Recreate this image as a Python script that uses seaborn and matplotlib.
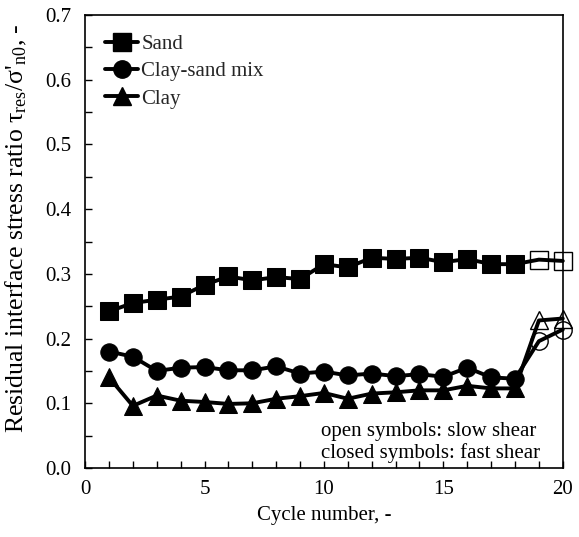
# plot.py
# residual interface stress ratio vs cycle number for three soils

import numpy as np
import pandas as pd
import seaborn as sns
import matplotlib
import matplotlib.pyplot as plt
from matplotlib.lines import Line2D
from matplotlib.ticker import MultipleLocator
matplotlib.use('Agg')

cycles = list(range(1, 21))
sand = [0.242, 0.255, 0.260, 0.265, 0.283, 0.296, 0.290, 0.295, 0.292, 0.315,
        0.310, 0.325, 0.323, 0.325, 0.318, 0.323, 0.315, 0.315, 0.322, 0.320]
mix = [0.180, 0.172, 0.150, 0.155, 0.156, 0.151, 0.151, 0.157, 0.146, 0.149,
       0.143, 0.146, 0.142, 0.145, 0.141, 0.155, 0.140, 0.138, 0.196, 0.214]
clay = [0.140, 0.096, 0.112, 0.104, 0.102, 0.099, 0.100, 0.107, 0.111, 0.116,
        0.107, 0.115, 0.117, 0.120, 0.120, 0.127, 0.123, 0.123, 0.228, 0.231]
labels = ["Sand", "Clay-sand mix", "Clay"]
markers = ["s", "o", "^"]
n_fast = 18  # cycles 1-18 fast shear, 19-20 slow shear

sns.set_theme(style="ticks")
plt.rcParams['font.family'] = ['Liberation Serif', 'DejaVu Serif']
plt.rcParams['mathtext.fontset'] = 'custom'
plt.rcParams['mathtext.rm'] = 'Liberation Serif'
plt.rcParams['mathtext.it'] = 'Liberation Serif:italic'

FS = 15

fig, ax = plt.subplots(figsize=(5.79, 5.37), dpi=100)
fig.subplots_adjust(left=0.147, right=0.972, bottom=0.1285, top=0.972)

handles = []
for vals, lab, mk in zip([sand, mix, clay], labels, markers):
    df = pd.DataFrame({"cycle": cycles, "ratio": vals})
    # whole line, no markers
    sns.lineplot(data=df, x="cycle", y="ratio", color="black", lw=2.8, ax=ax,
                 legend=False, zorder=2, clip_on=False)
    # closed symbols: fast shear
    fast = df.iloc[:n_fast]
    sns.lineplot(data=fast, x="cycle", y="ratio", color="black", lw=0,
                 marker=mk, markersize=12.5, markeredgecolor="black",
                 markerfacecolor="black", ax=ax, legend=False, zorder=3,
                 clip_on=False)
    # open symbols: slow shear
    slow = df.iloc[n_fast:]
    sns.lineplot(data=slow, x="cycle", y="ratio", color="black", lw=0,
                 marker=mk, markersize=12.5, markeredgecolor="black",
                 markerfacecolor="none", markeredgewidth=1.0, ax=ax,
                 legend=False, zorder=3, clip_on=False)
    handles.append(Line2D([], [], color="black", lw=2.8, marker=mk,
                          markersize=12.5, markerfacecolor="black",
                          markeredgecolor="black", label=lab))

ax.set_xlim(0, 20)
ax.set_ylim(0, 0.7)
ax.xaxis.set_major_locator(MultipleLocator(5))
ax.xaxis.set_minor_locator(MultipleLocator(1))
ax.yaxis.set_major_locator(MultipleLocator(0.1))
ax.yaxis.set_minor_locator(MultipleLocator(0.05))
ax.yaxis.set_major_formatter(matplotlib.ticker.FormatStrFormatter('%.1f'))
ax.tick_params(which="both", direction="in", length=5, width=1, color="black",
               labelsize=FS, labelcolor="black")
ax.tick_params(axis="x", which="both", pad=9)
ax.tick_params(axis="y", which="both", pad=10)
for sp in ax.spines.values():
    sp.set_linewidth(1.2)
    sp.set_color("black")

ax.set_xlabel("Cycle number, -", fontsize=FS, color="black", labelpad=5)
ax.set_ylabel("Residual interface stress ratio τ$_{\\mathrm{res}}$/σ'$_{\\mathrm{n0}}$, -",
              fontsize=18.5, color="black")
ax.yaxis.set_label_coords(-0.118, 0.53)

ax.legend(handles=handles, loc="upper left", frameon=False, fontsize=FS,
          handlelength=1.6, handletextpad=0.15, labelspacing=0.36,
          borderaxespad=0.55)

ax.text(0.494, 0.01, "open symbols: slow shear\nclosed symbols: fast shear",
        transform=ax.transAxes, ha="left", va="bottom", fontsize=FS,
        linespacing=1.15, color="black")

fig.savefig("out.png", dpi=100)
